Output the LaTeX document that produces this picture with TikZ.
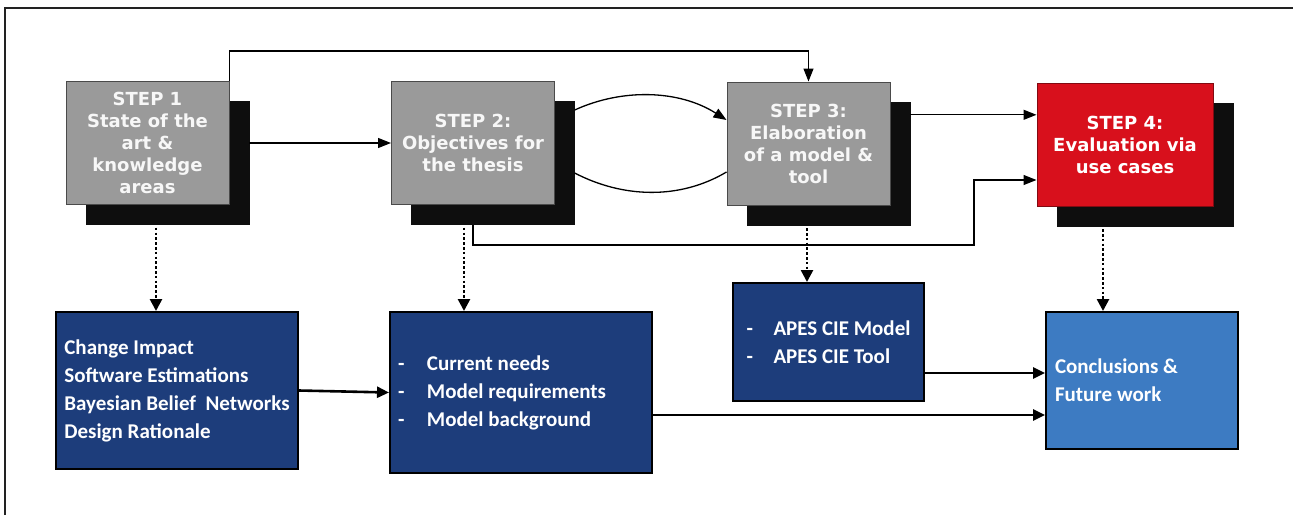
\documentclass[tikz,border=0pt]{standalone}
\usepackage{fontspec}
\setmainfont{Carlito}
\newfontfamily\stepfont{DejaVu Sans}
\usetikzlibrary{arrows.meta}

\definecolor{stepgray}{HTML}{9A9A9A}
\definecolor{stepedge}{HTML}{4A4A4A}
\definecolor{shade}{HTML}{0E0E0E}
\definecolor{stepred}{HTML}{D8101C}
\definecolor{navy}{HTML}{1D3D7B}
\definecolor{skyblue}{HTML}{3D7BC2}
\definecolor{framegray}{HTML}{222222}

\tikzset{
  stepbox/.style={draw=stepedge, line width=1pt, fill=stepgray, minimum width=163pt,
    minimum height=123pt, inner sep=0pt, align=center, text=white!94!gray,
    font=\stepfont\bfseries\fontsize{18}{22}\selectfont},
  redbox/.style={stepbox, fill=stepred, draw=stepred!60!black, minimum width=176pt, text=white},
  shadowbox/.style={fill=shade, draw=shade, minimum width=163pt, minimum height=123pt, inner sep=0pt},
  infobox/.style={draw=black, line width=2pt, fill=navy, text=white, align=flush left, inner sep=0pt,
    font=\bfseries\fontsize{21}{28}\selectfont},
  link/.style={line width=1.3pt, -{Triangle[length=13pt,width=10pt]}},
  plainlink/.style={line width=1.3pt},
  flow/.style={line width=2.6pt, -{Triangle[length=12pt,width=11pt]}},
  dots/.style={line width=2.6pt, dash pattern=on 2.6pt off 2.2pt, shorten <=3pt,
    -{Triangle[length=12pt,width=12pt]}}
}

\newcommand{\dashitem}[2]{\makebox[#1][l]{-}#2}

\begin{document}
\begin{tikzpicture}[x=1pt,y=-1pt]
  \useasboundingbox (0,0) rectangle (1293,515);

  % outer frame (top and left edges)
  \draw[line width=2pt, framegray] (5,515) -- (5,8) -- (1293,8);

  % step boxes with their offset shadows
  \node[shadowbox] (s1b) at (167.5,163) {};
  \node[stepbox] (s1) at (147.5,143) {STEP 1\\State of the\\art \&\\knowledge\\areas};

  \node[shadowbox] (s2b) at (493,163) {};
  \node[stepbox] (s2) at (473,143) {STEP 2:\\Objectives for\\the thesis};

  \node[shadowbox] (s3b) at (828.5,163.5) {};
  \node[stepbox] (s3) at (808.5,143.5) {STEP 3:\\Elaboration\\of a model \&\\tool};

  \node[shadowbox, minimum width=176pt] (s4b) at (1145,164.5) {};
  \node[redbox] (s4) at (1125,144.5) {STEP 4:\\Evaluation via\\use cases};

  % result boxes
  \node[infobox, minimum width=242pt, minimum height=157pt] (b1) at (177,390.5)
    {Change Impact\\Software Estimations\\Bayesian Belief\ \ Networks\\Design Rationale};
  \node[infobox, minimum width=262pt, minimum height=161pt, inner xsep=8pt, text width=246pt] (b2) at (521,392.5)
    {\dashitem{29pt}{Current needs}\\\dashitem{29pt}{Model requirements}\\\dashitem{29pt}{Model background}};
  \node[infobox, minimum width=191pt, minimum height=118pt] (b3) at (828.5,342)
    {\dashitem{27pt}{APES CIE Model}\\\dashitem{27pt}{APES CIE Tool}};
  \node[infobox, fill=skyblue, minimum width=192pt, minimum height=137pt, inner xsep=9pt, text width=174pt] (b4) at (1142,380.5)
    {Conclusions \&\\Future work};

  % connectors between the steps
  \coordinate (topc) at (500,51);
  \draw[link] (s1.north east) |- (topc) -| (s3.north);
  \draw[link] (s1b.east |- s1.east) -- (s2.west);
  \draw[link] ([yshift=53pt]s2b.east) .. controls +(48,-22) and +(-47,-30) .. ([yshift=23.5pt]s3.west);
  \draw[plainlink] ([yshift=-10pt]s2b.east) .. controls +(48,25) and +(-47,28) .. ([yshift=-28.5pt]s3.west);

  \path ([yshift=-13pt]s3b.north east) coordinate (k3);
  \draw[link] (k3) -- (k3 -| s4.west);

  \path ([xshift=-20pt]s2b.south) coordinate (q);
  \coordinate (r) at (974,245);
  \path ([yshift=-35.5pt]s4.west) coordinate (t);
  \draw[link] (q) |- (r) |- (t);

  % dotted links from each step to its result
  \path ([xshift=-11.5pt]s1b.south) coordinate (d1);
  \draw[dots] (d1) -- (d1 |- b1.north);
  \path ([xshift=-29pt]s2b.south) coordinate (d2);
  \draw[dots] (d2) -- (d2 |- b2.north);
  \path ([xshift=-21.5pt]s3b.south) coordinate (d3);
  \draw[dots] (d3) -- (d3 |- b3.north);
  \path ([xshift=-42pt]s4b.south) coordinate (d4);
  \draw[dots] (d4) -- (d4 |- b4.north);

  % connectors between the results
  \draw[flow] (b1.east) -- (b2.west);
  \path ([yshift=-31pt]b3.east) coordinate (u);
  \draw[flow] (u) -- (u -| b4.west);
  \path ([yshift=-22.5pt]b2.east) coordinate (v);
  \draw[flow] (v) -- (v -| b4.west);
\end{tikzpicture}
\end{document}
